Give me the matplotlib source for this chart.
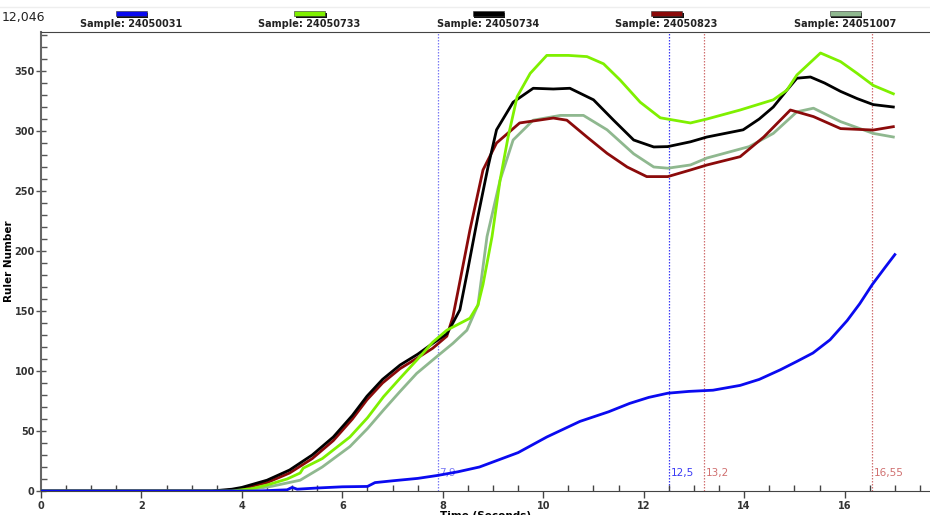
import numpy as np
import matplotlib
matplotlib.use("Agg")
import matplotlib.pyplot as plt
from matplotlib.patches import Rectangle
from matplotlib.ticker import MultipleLocator


# Sample names and colours for the legend
samples = ["24050031", "24050733", "24050734", "24050823", "24051007"]
colors = {
    "24050031": "#0a0af0",
    "24050733": "#7ff000",
    "24050734": "#000000",
    "24050823": "#8b0a0a",
    "24051007": "#8fb88f",
}

# Curves (time in seconds, ruler number)
t_031 = [0, 4.3, 4.9, 5.0, 5.1, 5.5, 6.0, 6.5, 6.65, 7.0, 7.5, 7.9, 8.3, 8.73, 9.5, 10.07,
         10.73, 11.3, 11.72, 12.1, 12.48, 12.9, 13.38, 13.92, 14.3, 14.72, 15.05, 15.37,
         15.71, 16.05, 16.3, 16.55, 16.8, 17.0]
r_031 = [0, 0, 1, 3, 1.5, 2.5, 3.5, 3.8, 7, 8.5, 10.5, 13, 16, 20, 32, 45,
         58, 66, 73, 78, 81.5, 83, 84, 88, 93, 101, 108, 115,
         126, 142, 156, 172, 186, 197]

t_733 = [0, 3.8, 4.2, 4.5, 4.9, 5.16, 5.22, 5.6, 6.15, 6.5, 6.82, 7.15, 7.48, 7.8, 8.08,
         8.54, 8.7, 8.8, 8.98, 9.14, 9.3, 9.48, 9.74, 10.07, 10.5, 10.87, 11.2, 11.53,
         11.93, 12.33, 12.93, 13.26, 13.92, 14.58, 14.85, 15.05, 15.52, 15.92, 16.25,
         16.57, 16.97]
r_733 = [0, 0, 2, 5, 10, 15, 19, 27, 45, 61, 78.6, 94, 109, 124, 134,
         144, 155, 172, 212, 259, 295, 328.6, 348, 363, 363, 362, 356, 342.5,
         324, 311, 306.7, 310, 317.5, 326, 334, 346.7, 365, 357.8, 348,
         338, 331]

t_734 = [0, 3.4, 3.8, 4.0, 4.5, 4.95, 5.4, 5.82, 6.2, 6.49, 6.8, 7.15, 7.5, 7.8, 8.08,
         8.2, 8.34, 8.5, 8.7, 8.9, 9.07, 9.4, 9.8, 10.2, 10.53, 11.0, 11.4, 11.8, 12.2,
         12.48, 12.93, 13.26, 13.98, 14.3, 14.58, 14.85, 15.05, 15.32, 15.6, 15.92,
         16.25, 16.57, 16.97]
r_734 = [0, 0, 1.5, 3, 9, 17.5, 30, 45, 63, 79, 93, 105, 114, 123, 131,
         140, 151, 185, 229, 270, 301, 324, 335.6, 335, 335.6, 326, 309, 292.5, 286.7,
         287, 291, 295, 301, 310, 320, 334, 344, 345, 340, 333,
         327, 322, 320]

t_823 = [0, 3.6, 4.0, 4.5, 4.95, 5.4, 5.82, 6.2, 6.49, 6.8, 7.15, 7.5, 7.8, 8.08, 8.2,
         8.3, 8.54, 8.8, 9.07, 9.53, 10.2, 10.47, 10.87, 11.27, 11.67, 12.06, 12.48,
         12.93, 13.26, 13.92, 14.39, 14.92, 15.38, 15.92, 16.57, 16.97]
r_823 = [0, 0, 2, 7, 15, 27, 42, 60, 76, 90, 102, 111, 119, 129, 145,
         166, 217.5, 267.5, 290, 306.7, 310.8, 309, 295, 281.4, 270, 262, 262,
         267.5, 271.7, 278.6, 295, 317.5, 312, 302, 300.8, 303.6]

t_007 = [0, 3.9, 4.3, 4.6, 5.16, 5.6, 6.15, 6.5, 6.82, 7.15, 7.48, 7.88, 8.2, 8.48, 8.7,
         8.88, 9.14, 9.4, 9.8, 10.34, 10.8, 11.27, 11.8, 12.2, 12.48, 12.93, 13.26, 14.1,
         14.58, 15.05, 15.38, 15.92, 16.57, 16.97]
r_007 = [0, 0, 2, 4, 9, 20, 37, 52, 67.5, 83, 98, 112, 123, 134, 155,
         212, 259, 292.5, 309, 313, 313, 301, 281, 270, 269, 271.7, 277.5, 287,
         298, 316, 319, 307.8, 298, 295]

curves = {
    "24050031": (t_031, r_031),
    "24050733": (t_733, r_733),
    "24050734": (t_734, r_734),
    "24050823": (t_823, r_823),
    "24051007": (t_007, r_007),
}

# Marker lines (time, colour)
marker_times = [7.9, 12.5, 13.2, 16.55]
marker_labels = ["7,9", "12,5", "13,2", "16,55"]
marker_colors = ["#7a7af5", "#3a3af5", "#d07070", "#d07070"]

fig = plt.figure(figsize=(9.3, 5.15), dpi=100)
ax = fig.add_axes([41 / 930, 24 / 515, 889 / 930, 459 / 515])

# Vertical marker lines with labels
for mt, ml, mc in zip(marker_times, marker_labels, marker_colors):
    ax.axvline(mt, color=mc, lw=0.9, ls=(0, (1.2, 1.2)), zorder=1)
    ax.text(mt + 0.03, 15, ml, color=mc, fontsize=7.5, va="center", ha="left", zorder=1)

# Draw curves; 24050031 on top
for name in ["24051007", "24050823", "24050734", "24050733", "24050031"]:
    t, r = curves[name]
    ax.plot(t, r, color=colors[name], lw=2.0, solid_joinstyle="round", zorder=3)

ax.set_xlim(0, 17.7)
ax.set_ylim(0, 382.5)

ax.xaxis.set_major_locator(MultipleLocator(2))
ax.xaxis.set_minor_locator(MultipleLocator(0.5))
ax.yaxis.set_major_locator(MultipleLocator(50))
ax.yaxis.set_minor_locator(MultipleLocator(10))
ax.tick_params(axis="x", which="major", direction="out", length=5, width=1, color="#444444",
               labelsize=7, pad=2)
ax.tick_params(axis="x", which="minor", direction="in", length=4, width=1, color="#444444")
ax.tick_params(axis="y", which="major", direction="inout", length=7, width=1, color="#555555",
               labelsize=7, pad=1)
ax.tick_params(axis="y", which="minor", direction="in", length=4, width=1, color="#555555")
for lab in ax.get_xticklabels() + ax.get_yticklabels():
    lab.set_fontweight("bold")
    lab.set_color("#333333")

ax.spines["right"].set_visible(False)
ax.spines["top"].set_color("#444444")
ax.spines["left"].set_color("#666666")
ax.spines["bottom"].set_color("#444444")
ax.spines["left"].set_linewidth(1.5)

ax.set_ylabel("Ruler Number", fontsize=7.5, fontweight="bold")
ax.yaxis.set_label_coords(-27 / 889, 0.5)
ax.set_xlabel("Time (Seconds)", fontsize=7.5, fontweight="bold")
ax.xaxis.set_label_coords(0.5, -0.043)

# Header: value and legend boxes
fig.text(2 / 930, 1 - 17 / 515, "12,046", fontsize=9, color="#222222", va="center", ha="left")
fig.add_artist(plt.Line2D([0, 1], [1 - 7 / 515, 1 - 7 / 515], color="#eeeeee", lw=1))
for i, name in enumerate(samples):
    cx = (131 + i * 178.5) / 930
    w, h = 31 / 930, 5 / 515
    y0 = 1 - 16 / 515
    fig.add_artist(Rectangle((cx - w / 2 + 1.5 / 930, y0 - 1.5 / 515), w, h,
                             transform=fig.transFigure, color="#111111", lw=0))
    fig.add_artist(Rectangle((cx - w / 2, y0), w, h, transform=fig.transFigure,
                             facecolor=colors[name], edgecolor="#333333", lw=0.4))
    fig.text(cx, 1 - 24 / 515, "Sample: " + name, fontsize=7, fontweight="bold",
             color="#222222", ha="center", va="center")

fig.savefig("out.png", dpi=100)
